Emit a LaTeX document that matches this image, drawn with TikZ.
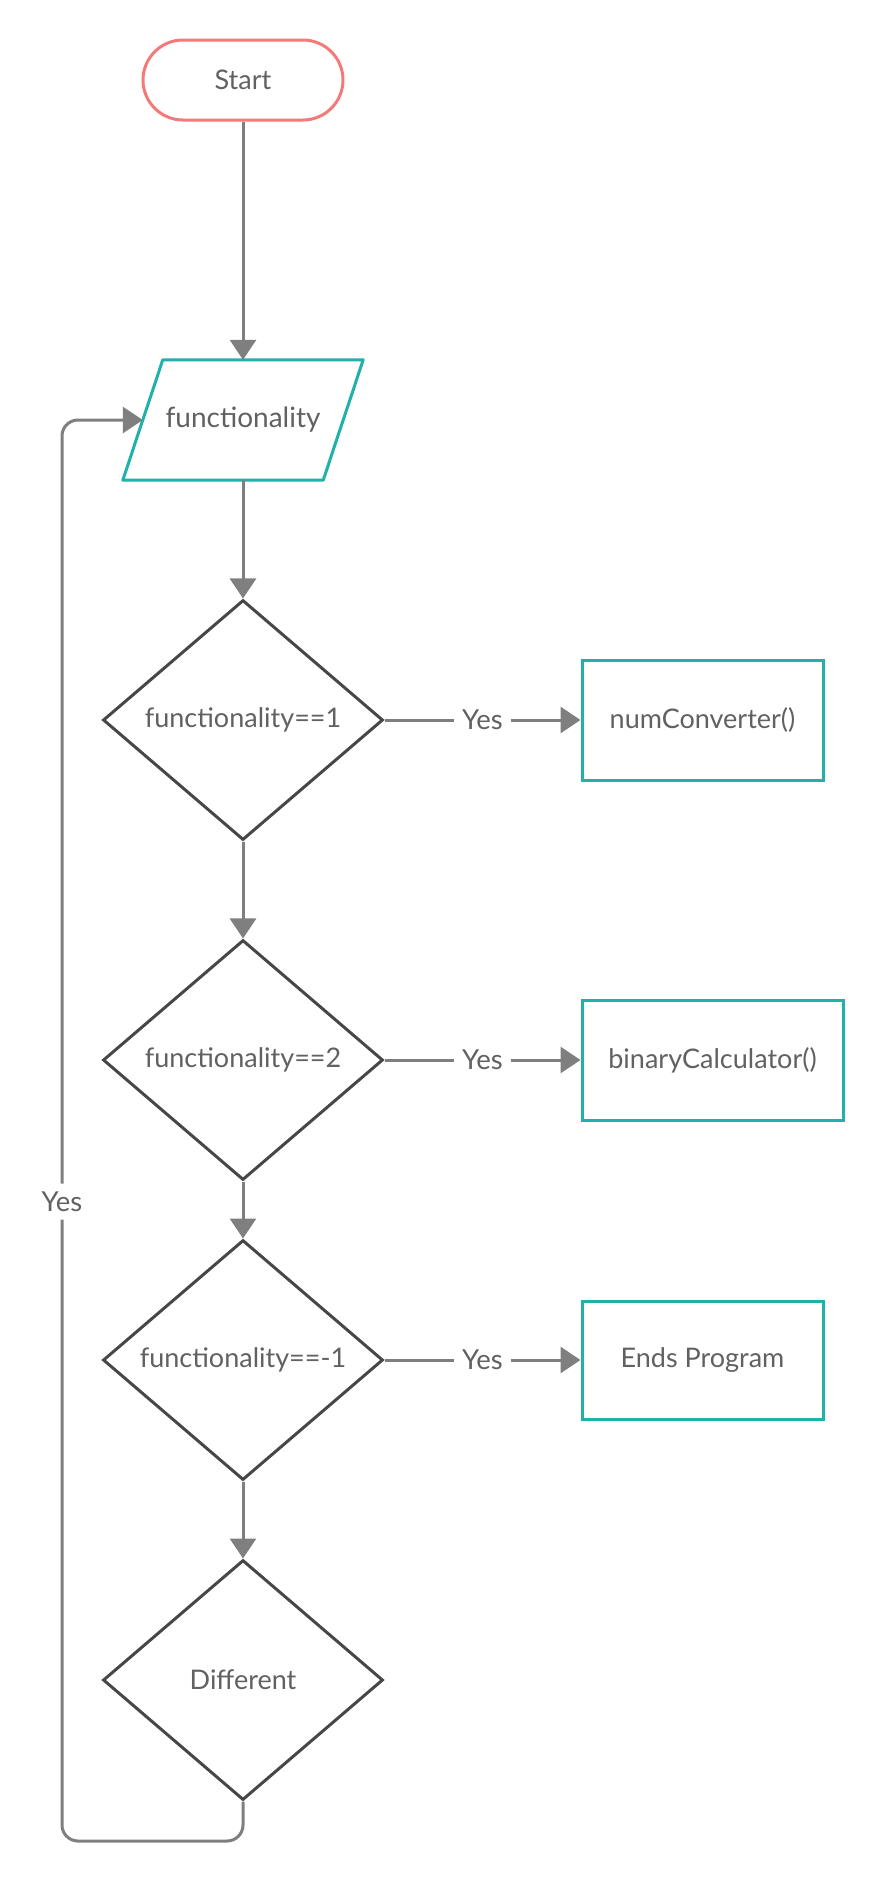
\documentclass[tikz,border=0pt]{standalone}
\usepackage{fontspec}
\setmainfont{Lato}
\usetikzlibrary{shapes.geometric,arrows.meta}
\definecolor{arrowgray}{HTML}{7F7F7F}
\definecolor{diagray}{HTML}{474747}
\definecolor{txtgray}{HTML}{616161}
\definecolor{startred}{HTML}{F47A7A}
\definecolor{tealc}{HTML}{20B1AA}
\begin{document}
\begin{tikzpicture}[x=1pt,y=-1pt,
  every node/.style={font=\fontsize{27}{32}\selectfont, text=txtgray},
  startbox/.style={draw=startred, line width=3pt, rounded corners=40pt, minimum width=200pt, minimum height=80pt},
  iobox/.style={minimum width=200pt, minimum height=120pt, inner sep=0pt, font=\fontsize{28}{33}\selectfont},
  decbox/.style={diamond, draw=diagray, line width=3pt, minimum width=280pt, minimum height=240pt, inner sep=0pt, aspect=1.17},
  procbox/.style={draw=tealc, line width=3pt, minimum height=120pt},
  conn/.style={draw=arrowgray, line width=3pt, -{Triangle[length=20pt,width=26pt]}},
  lbl/.style={fill=white, inner sep=8pt, font=\fontsize{27.5}{32}\selectfont}
]
\useasboundingbox (0,0) rectangle (884,1898);
\node[startbox] (start) at (243,80) {Start};
\node[iobox] (io) at (243,420) {functionality};
\draw[draw=tealc, line width=3pt, line join=round]
  ([xshift=20pt]io.north west) -- ([xshift=20pt]io.north east) --
  ([xshift=-20pt]io.south east) -- ([xshift=-20pt]io.south west) -- cycle;
\node[decbox] (d1) at (243,720) {functionality==1};
\node[decbox] (d2) at (243,1060) {functionality==2};
\node[decbox] (d3) at (243,1360) {functionality==-1};
\node[decbox] (d4) at (243,1680) {Different};
\node[procbox, minimum width=241pt] (p1) at (702.5,720) {numConverter()};
\node[procbox, minimum width=261pt] (p2) at (712.5,1060) {binaryCalculator()};
\node[procbox, minimum width=241pt, minimum height=118pt] (p3) at (702.5,1360) {Ends Program};
\coordinate (lb) at (62,1841);
\draw[conn] (start) -- (io);
\draw[conn] (io) -- (d1);
\draw[conn] (d1) -- (d2);
\draw[conn] (d2) -- (d3);
\draw[conn] (d3) -- (d4);
\draw[conn] (d1) -- node[lbl] {Yes} (p1);
\draw[conn] (d2) -- node[lbl] {Yes} (p2);
\draw[conn] (d3) -- node[lbl] {Yes} (p3);
\draw[conn, rounded corners=16pt] (d4.south) |- (lb) |- node[lbl, pos=0.225, inner xsep=2pt] {Yes} (io.west);
\end{tikzpicture}
\end{document}
